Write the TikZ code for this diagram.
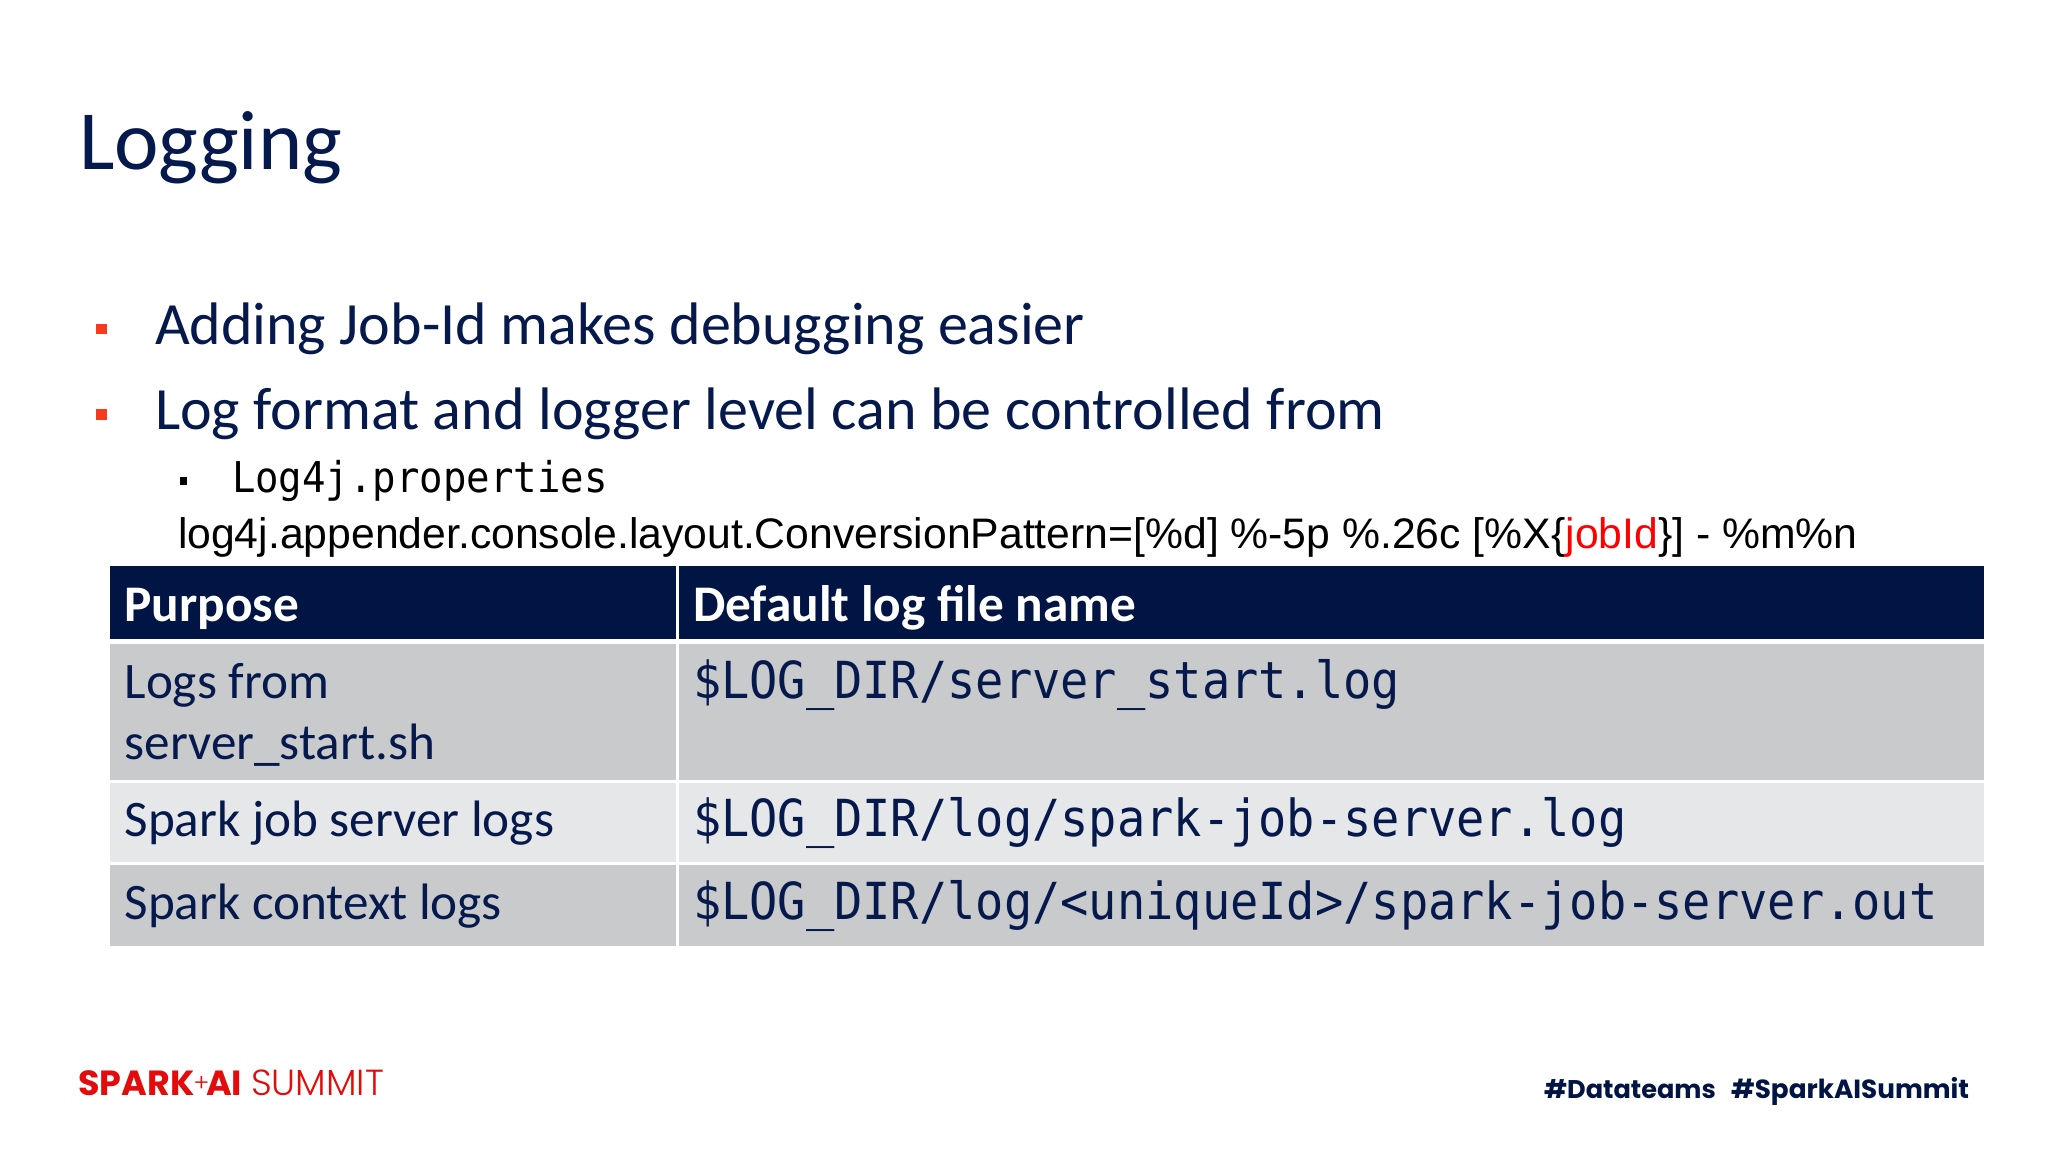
\documentclass[tikz,border=0pt]{standalone}
\usepackage{fontspec}
\setmainfont{Carlito}
\newfontfamily\arialf{Liberation Sans}
\newfontfamily\monof[FakeStretch=0.92]{DejaVu Sans Mono}
\newfontfamily\logob{Poppins}[UprightFont=* Bold]
\newfontfamily\logol{Poppins}[UprightFont=* Light]
\definecolor{navy}{HTML}{001543}
\definecolor{titleblue}{HTML}{05194C}
\definecolor{rowdark}{HTML}{C9CACC}
\definecolor{rowlight}{HTML}{E6E7E8}
\definecolor{accent}{HTML}{F63A1E}
\definecolor{logored}{HTML}{E30B0B}
\newcommand{\px}[1]{\fontsize{#1}{#1}\selectfont}
\tikzset{
  txt/.style={anchor=base west,inner sep=0pt,outer sep=0pt},
  titletext/.style={txt,text=titleblue,font=\px{63.2}},
  bodytext/.style={txt,text=titleblue,font=\px{45}},
  headtext/.style={txt,text=white,font=\bfseries\px{38.5}},
  celltext/.style={txt,text=titleblue,font=\px{38.4}},
  monotext/.style={txt,text=titleblue,font=\monof\px{38.3}},
}
\begin{document}
\begin{tikzpicture}[x=0.75pt,y=-0.75pt]
\useasboundingbox (0,0) rectangle (2048,1152);
\fill[white] (0,0) rectangle (2048,1152);
\node[titletext] (title) at (79,170) {Logging};
\fill[accent] (96,324) rectangle (107,334);
\node[bodytext] (b1) at (155,344.5) {Adding Job-Id makes debugging easier};
\fill[accent] (96,409) rectangle (107,420);
\node[bodytext] (b2) at (155,429.5) {Log format and logger level can be controlled from};
\fill[black] (180,477) rectangle (187,485);
\node[txt,text=black,font=\monof\px{31.8}] (b3) at (232,492.5) {Log4j.properties};
\node[txt,text=black,font=\arialf\px{32.03}] (b4) at (178,548.5) {log4j.appender.console.layout.ConversionPattern=[\%d] \%-5p \%.26c [\%X\{\textcolor{red}{jobId}\}] - \%m\%n};
% table
\fill[navy] (110,566) rectangle (676,639);
\fill[navy] (679,566) rectangle (1984,639);
\fill[rowdark] (110,644) rectangle (676,780);
\fill[rowdark] (679,644) rectangle (1984,780);
\fill[rowlight] (110,783) rectangle (676,862);
\fill[rowlight] (679,783) rectangle (1984,862);
\fill[rowdark] (110,865) rectangle (676,946);
\fill[rowdark] (679,865) rectangle (1984,946);
\node[headtext] (h1) at (124.5,621.5) {Purpose};
\node[headtext] (h2) at (693,621.5) {Default log file name};
\node[celltext] (c1) at (124.5,698.5) {Logs from};
\node[celltext] (c1b) at (124.5,759.5) {server\_start.sh};
\node[monotext] (d1) at (693,698.5) {\$LOG\_DIR/server\_start.log};
\node[celltext] (c2) at (124.5,836.5) {Spark job server logs};
\node[monotext] (d2) at (693,836.5) {\$LOG\_DIR/log/spark-job-server.log};
\node[celltext] (c3) at (124.5,919.5) {Spark context logs};
\node[monotext] (d3) at (693,919.5) {\$LOG\_DIR/log/<uniqueId>/spark-job-server.out};
% footer
\node[txt,text=logored,font=\logob\px{26.2}] (l1) at (78.5,1095) {SPARK};
\node[txt,text=logored,font=\logol\px{18}] (l1p) at (193.5,1091) {+};
\node[txt,text=logored,font=\logob\px{26.2}] (l1a) at (206,1095) {AI};
\node[txt,text=logored,font=\logol\px{27.2}] (l2) at (251,1095) {SUMMIT};
\node[txt,text=navy,font=\logob\px{19.2}] (t1) at (1544,1098) {\#Datateams};
\node[txt,text=navy,font=\logob\px{19.7}] (t2) at (1731,1098) {\#SparkAISummit};
\end{tikzpicture}
\end{document}
